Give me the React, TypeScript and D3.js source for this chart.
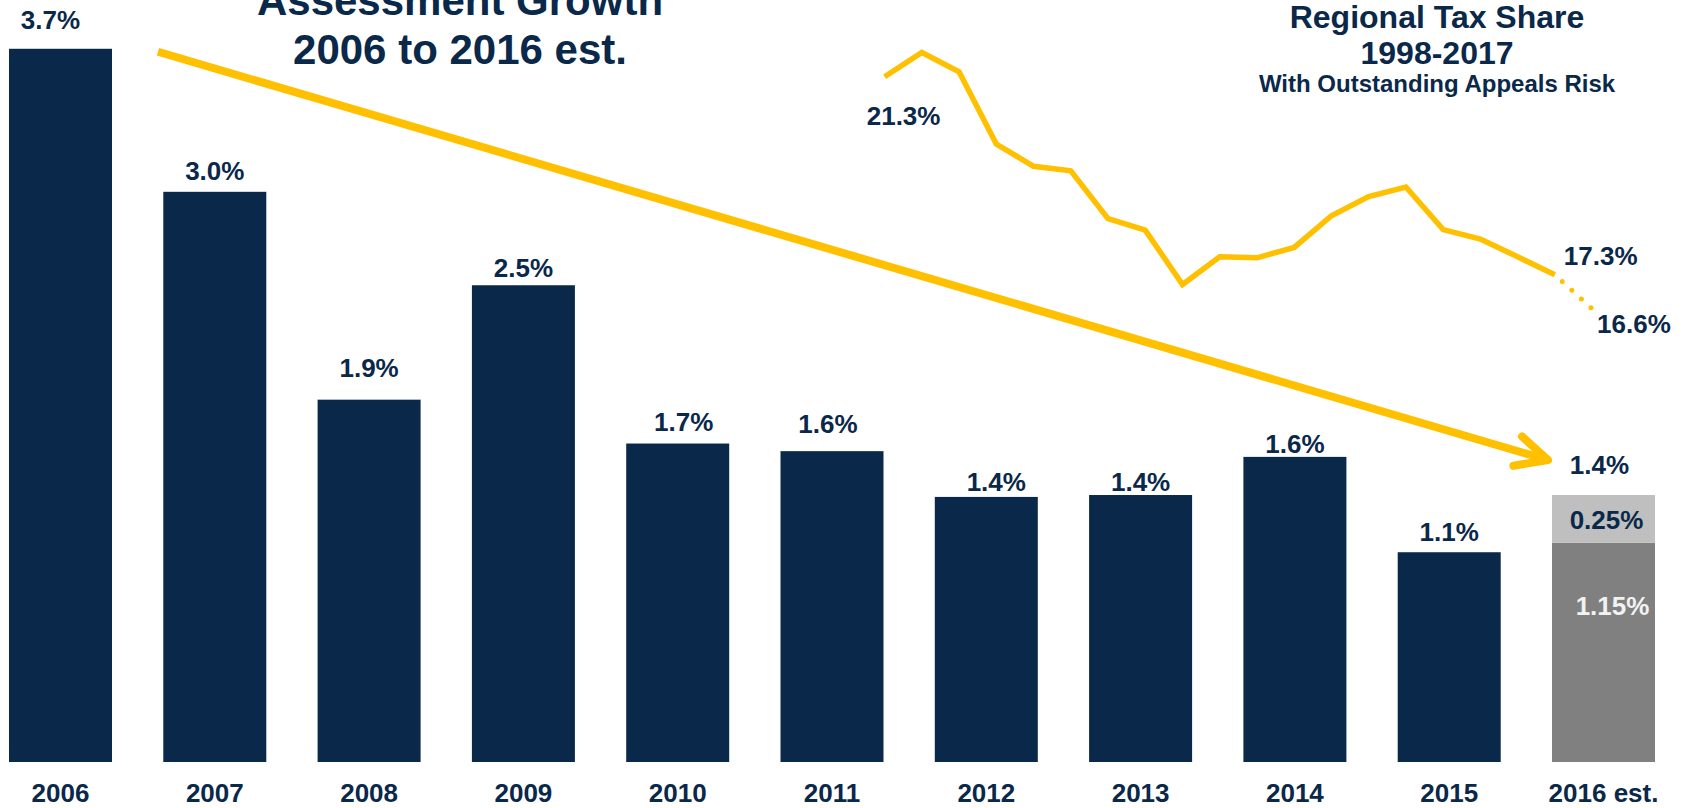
import React from 'react'
import * as d3 from 'd3'

// Assessment growth bars
const years = ['2006', '2007', '2008', '2009', '2010', '2011', '2012', '2013', '2014', '2015', '2016 est.']
const growth = [3.74, 2.99, 1.9, 2.5, 1.67, 1.63, 1.39, 1.4, 1.6, 1.1, 1.4]
const growthLabels = ['3.7%', '3.0%', '1.9%', '2.5%', '1.7%', '1.6%', '1.4%', '1.4%', '1.6%', '1.1%', '1.4%']

// 2016 est. split
const estParts = [1.15, 0.25]
const estPartLabels = ['1.15%', '0.25%']

// Regional tax share line
const shareYears = d3.range(1998, 2018).map(String)
const share = [
  21.3, 21.79, 21.4, 19.94, 19.49, 19.4, 18.43, 18.2, 17.1, 17.66,
  17.64, 17.85, 18.49, 18.88, 19.07, 18.21, 18.02, 17.66, 17.3, 16.61
]

const NAVY = '#0a2849'
const GOLD = '#ffc000'
const FONT = '"Liberation Sans", Arial, sans-serif'

// hand placed label nudges, [dx, dy above bar top]
const labelNudge: Record<string, [number, number]> = {
  '2006': [-10, 20], '2007': [0, 12], '2008': [0, 23], '2009': [0, 8],
  '2010': [6, 13], '2011': [-4, 18], '2012': [10, 6], '2013': [0, 4],
  '2014': [0, 4], '2015': [0, 11], '2016 est.': [-4, 21]
}

const W = 1684
const H = 808

const App: React.FC = () => {
  const x = d3.scaleBand<string>().domain(years).range([9, 1655]).paddingInner(0.3325).paddingOuter(0)
  const bw = x.bandwidth()
  const y = d3.scaleLinear().domain([0, 4]).range([762, 762 - 4 * 190.7])

  const lx = d3.scalePoint<string>().domain(shareYears).range([884.6, 1592.1])
  const ly = d3.scaleLinear().domain([16.6, 21.3]).range([309.3, 76.7])

  const solid = d3.line<number>().x((_, i) => lx(shareYears[i])!).y(d => ly(d))(share.slice(0, 19))!
  const last = share.length - 1
  const dotted = d3.line<number>().x((_, i) => lx(shareYears[last - 1 + i])!).y(d => ly(d))(share.slice(last - 1))!

  // trend arrow from 2006 down to 2016 est.
  const est = years[years.length - 1]
  const a0: [number, number] = [x('2006')! + bw + 46, y(growth[0]) + 3]
  const a1: [number, number] = [x(est)! - 4, y(growth[growth.length - 1]) - 35]
  const ang = Math.atan2(a0[1] - a1[1], a0[0] - a1[0])
  const head = [ang - 0.45, ang + 0.45].map(t => [a1[0] + 35 * Math.cos(t), a1[1] + 35 * Math.sin(t)])

  const stack = d3.stack<number[]>().keys(['0', '1'])([estParts as any])

  return (
    <svg width={W} height={H} style={{ position: 'absolute', left: 0, top: 0, background: '#fff' }} fontFamily={FONT} fontWeight="bold">
      {/* bars */}
      {years.slice(0, -1).map((yr, i) => (
        <rect key={yr} x={x(yr)} y={y(growth[i])} width={bw} height={y(0) - y(growth[i])} fill={NAVY} />
      ))}
      {stack.map((s, i) => (
        <rect key={i} x={x(est)} y={y(s[0][1])} width={bw} height={y(s[0][0]) - y(s[0][1])}
          fill={i === 0 ? '#808080' : '#bfbfbf'} />
      ))}

      {/* bar labels */}
      {years.map((yr, i) => (
        <text key={yr} x={x(yr)! + bw / 2 + labelNudge[yr][0]} y={y(growth[i]) - labelNudge[yr][1]}
          textAnchor="middle" fontSize={26} fill={NAVY}>{growthLabels[i]}</text>
      ))}
      <text x={x(est)! + bw / 2 + 3} y={(y(stack[1][0][0]) + y(stack[1][0][1])) / 2 + 10}
        textAnchor="middle" fontSize={26} fill={NAVY}>{estPartLabels[1]}</text>
      <text x={x(est)! + bw / 2 + 9} y={y(stack[0][0][1]) + 72}
        textAnchor="middle" fontSize={26} fill="#f2f2f2">{estPartLabels[0]}</text>

      {/* category axis */}
      {years.map(yr => (
        <text key={yr} x={x(yr)! + bw / 2} y={802} textAnchor="middle" fontSize={26} fill={NAVY}>{yr}</text>
      ))}

      {/* trend arrow */}
      <line x1={a0[0]} y1={a0[1]} x2={a1[0]} y2={a1[1]} stroke={GOLD} strokeWidth={8} />
      <path d={`M${head[0][0]},${head[0][1]}L${a1[0]},${a1[1]}L${head[1][0]},${head[1][1]}`}
        fill="none" stroke={GOLD} strokeWidth={8} strokeLinecap="round" strokeLinejoin="round" />

      {/* tax share line */}
      <path d={solid} fill="none" stroke={GOLD} strokeWidth={5.5} />
      <path d={dotted} fill="none" stroke={GOLD} strokeWidth={5} strokeLinecap="round"
        strokeDasharray="0 13" strokeDashoffset={-10} />
      <text x={lx(shareYears[0])! + 19} y={ly(share[0]) + 48} textAnchor="middle" fontSize={26} fill={NAVY}>21.3%</text>
      <text x={lx(shareYears[last - 1])! + 9} y={ly(share[last - 1]) - 10} fontSize={26} fill={NAVY}>17.3%</text>
      <text x={lx(shareYears[last])! + 5} y={ly(share[last]) + 24} fontSize={26} fill={NAVY}>16.6%</text>

      {/* titles */}
      <text x={460} textAnchor="middle" fontSize={42} fill={NAVY}>
        <tspan x={460} y={15}>Assessment Growth</tspan>
        <tspan x={460} y={64}>2006 to 2016 est.</tspan>
      </text>
      <text textAnchor="middle" fill={NAVY}>
        <tspan x={1437} y={28} fontSize={32}>Regional Tax Share</tspan>
        <tspan x={1437} y={64} fontSize={32}>1998-2017</tspan>
        <tspan x={1437} y={92} fontSize={24}>With Outstanding Appeals Risk</tspan>
      </text>
    </svg>
  )
}

export default App
